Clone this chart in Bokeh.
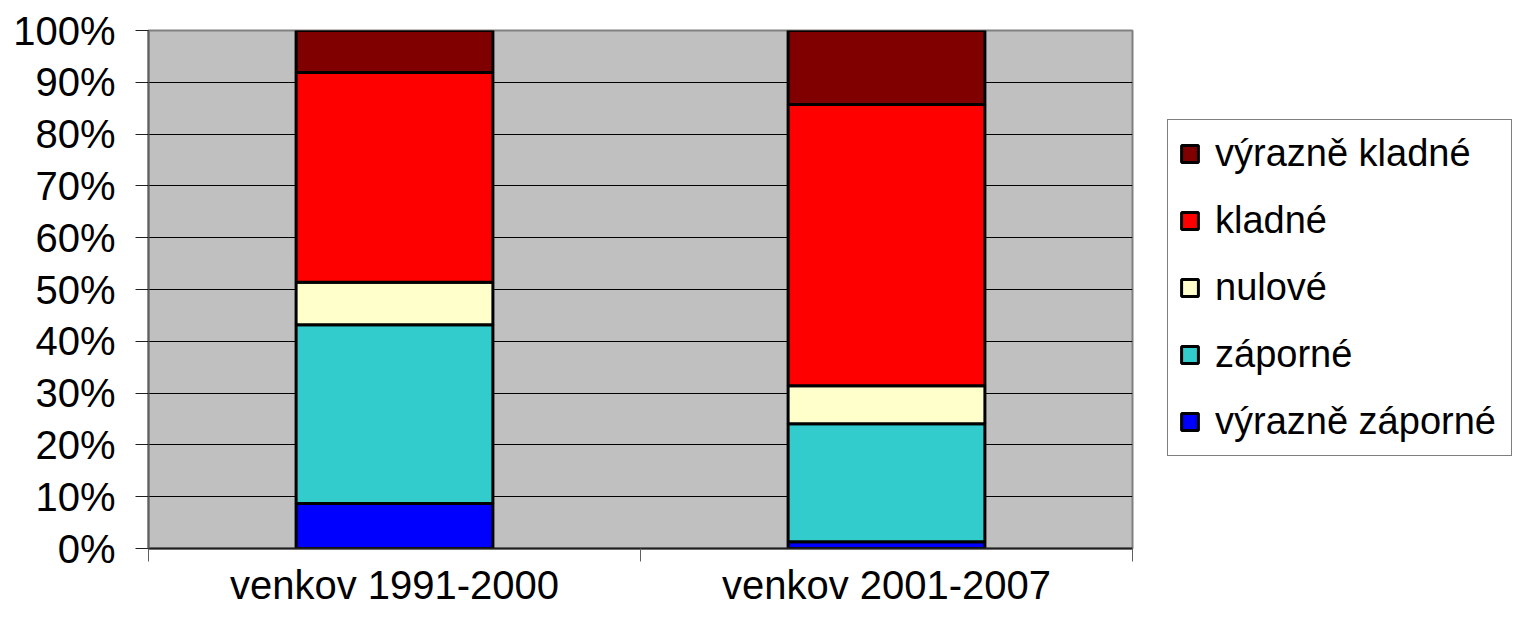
from bokeh.plotting import figure
from bokeh.models import (ColumnDataSource, FixedTicker, PrintfTickFormatter,
                          Legend, LegendItem, Range1d)
from bokeh.embed import file_html
from bokeh.resources import INLINE

# ---- data ----
categories = ["venkov 1991-2000", "venkov 2001-2007"]
series_labels = ["výrazně záporné", "záporné", "nulové", "kladné", "výrazně kladné"]
series_keys = ["vyrazne_zaporne", "zaporne", "nulove", "kladne", "vyrazne_kladne"]
vyrazne_zaporne = [8.7, 1.3]
zaporne = [34.5, 22.8]
nulove = [8.2, 7.3]
kladne = [40.5, 54.3]
vyrazne_kladne = [8.1, 14.3]
colors = ["#0000FF", "#33CCCC", "#FFFFCC", "#FF0000", "#800000"]
y_ticks = list(range(0, 101, 10))

FONT = "Liberation Sans"
FS = "40px"
LFS = "38px"

x_pos = [i + 0.5 for i in range(len(categories))]
source = ColumnDataSource(dict(
    x=x_pos,
    vyrazne_zaporne=vyrazne_zaporne,
    zaporne=zaporne,
    nulove=nulove,
    kladne=kladne,
    vyrazne_kladne=vyrazne_kladne,
))

p = figure(width=1510, height=608, frame_width=984, frame_height=518,
           x_range=Range1d(0, len(categories)), y_range=Range1d(0, 100),
           output_backend="svg", toolbar_location=None,
           min_border_left=148, min_border_right=378,
           min_border_top=30, min_border_bottom=60)

p.background_fill_color = "#C0C0C0"
p.border_fill_color = "white"
p.outline_line_color = "#808080"
p.outline_line_width = 2

renderers = p.vbar_stack(series_keys, x="x", width=0.4, color=colors,
                         line_color="black", line_width=3, source=source)

# y axis
p.yaxis.ticker = FixedTicker(ticks=y_ticks)
p.yaxis.formatter = PrintfTickFormatter(format="%d%%")
p.yaxis.major_label_text_font = FONT
p.yaxis.major_label_text_font_size = FS
p.yaxis.major_label_text_color = "black"
p.yaxis.major_tick_out = 13
p.yaxis.major_tick_in = 0
p.yaxis.minor_tick_out = 0
p.yaxis.minor_tick_in = 0
p.yaxis.major_tick_line_color = "#202020"
p.yaxis.axis_line_color = "#606060"
p.yaxis.axis_line_width = 2
p.yaxis.major_label_standoff = 20

# x axis
p.xaxis.ticker = FixedTicker(ticks=x_pos, minor_ticks=list(range(len(categories) + 1)))
p.xaxis.major_label_overrides = {x: c for x, c in zip(x_pos, categories)}
p.xaxis.major_label_text_font = FONT
p.xaxis.major_label_text_font_size = FS
p.xaxis.major_label_text_color = "black"
p.xaxis.major_tick_out = 0
p.xaxis.major_tick_in = 0
p.xaxis.minor_tick_out = 13
p.xaxis.minor_tick_in = 0
p.xaxis.minor_tick_line_color = "#606060"
p.xaxis.minor_tick_line_width = 1
p.xaxis.axis_line_color = "#202020"
p.xaxis.axis_line_width = 2
p.xaxis.major_label_standoff = 1

# grid
p.xgrid.visible = False
p.ygrid.ticker = FixedTicker(ticks=y_ticks)
p.ygrid.grid_line_color = "black"
p.ygrid.grid_line_width = 1

# legend (reverse order)
items = [LegendItem(label=series_labels[i], renderers=[renderers[i]])
         for i in reversed(range(len(series_labels)))]
legend = Legend(items=items, location=(35, 92),
                label_text_font=FONT, label_text_font_size=LFS,
                label_text_color="black",
                glyph_width=21, glyph_height=21, label_height=45, label_width=285,
                label_standoff=15, padding=11, spacing=22, margin=0,
                border_line_color="black", border_line_width=1,
                background_fill_color="white", background_fill_alpha=1.0)
p.add_layout(legend, "right")

open("out.html", "w").write(file_html(p, INLINE))
